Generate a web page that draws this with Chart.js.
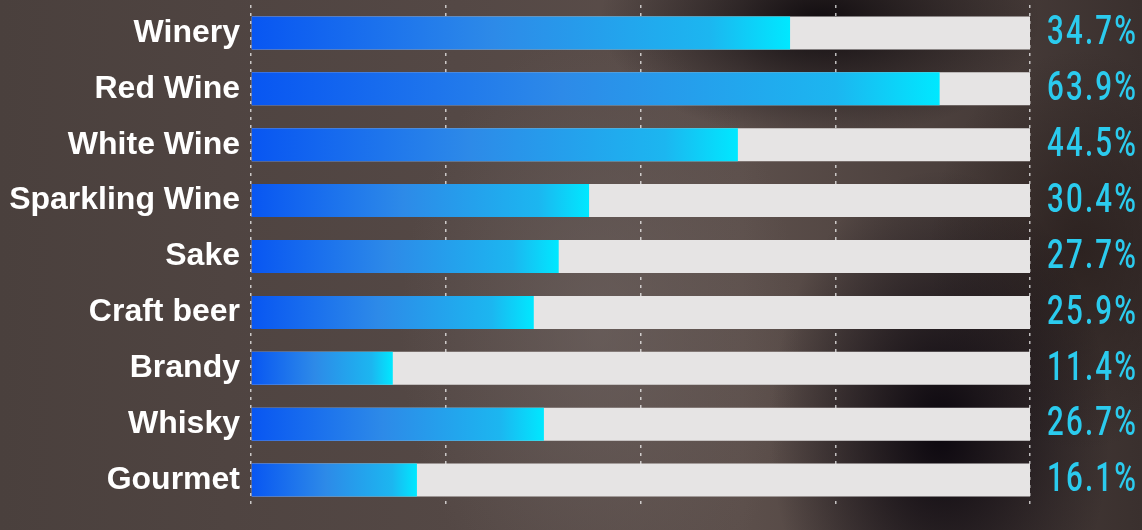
<!DOCTYPE html>
<html>
<head>
<meta charset="utf-8">
<script src="https://cdn.jsdelivr.net/npm/chart.js@4.4.1/dist/chart.umd.min.js"></script>
<style>
    html, body {
        margin: 0;
        padding: 0;
        width: 1142px;
        height: 530px;
        overflow: hidden;
    }
    #wrap {
        position: relative;
        width: 1142px;
        height: 530px;
        background:
            radial-gradient(ellipse 170px 260px at 940px 430px, rgba(8, 4, 12, 0.95), rgba(8, 4, 12, 0) 100%),
            radial-gradient(ellipse 220px 120px at 820px 20px, rgba(10, 6, 10, 0.9), rgba(10, 6, 10, 0) 100%),
            radial-gradient(ellipse 150px 200px at 1080px 250px, rgba(40, 30, 28, 0.8), rgba(40, 30, 28, 0) 100%),
            radial-gradient(ellipse 200px 300px at 600px 330px, rgba(120, 110, 108, 0.45), rgba(120, 110, 108, 0) 100%),
            linear-gradient(90deg, #4a403d 0%, #544845 40%, #5c4f4b 65%, #3a302e 100%);
    }
    canvas { position: absolute; left: 0; top: 0; }
</style>
</head>
<body>
<div id="wrap"><canvas id="chart" width="1142" height="530"></canvas></div>
<script>
// categories, bar lengths (share of axis) and printed labels
const categories = ['Winery', 'Red Wine', 'White Wine', 'Sparkling Wine', 'Sake', 'Craft beer', 'Brandy', 'Whisky', 'Gourmet'];
const barValues = [69.2, 88.4, 62.5, 43.4, 39.5, 36.3, 18.2, 37.6, 21.3];
const trackValues = [100, 100, 100, 100, 100, 100, 100, 100, 100];
const valueLabels = ['34.7%', '63.9%', '44.5%', '30.4%', '27.7%', '25.9%', '11.4%', '26.7%', '16.1%'];
const axisMax = 100;
const axisStep = 25;

function barGradient(context) {
    const chart = context.chart;
    if (!chart.chartArea) return '#1565f0';
    const xs = chart.scales.x;
    const x0 = xs.getPixelForValue(0);
    const x1 = xs.getPixelForValue(context.raw);
    const g = chart.ctx.createLinearGradient(x0, 0, x1, 0);
    g.addColorStop(0, '#0856f2');
    g.addColorStop(0.45, '#2d8ae8');
    g.addColorStop(0.85, '#1cb6f0');
    g.addColorStop(1, '#00e8ff');
    return g;
}

// value text on the right of each track (squeezed to look condensed)
const valueLabelPlugin = {
    id: 'valueLabels',
    afterDatasetsDraw(chart) {
        const ctx = chart.ctx;
        const meta = chart.getDatasetMeta(0);
        const squeeze = 0.72;
        ctx.save();
        ctx.fillStyle = '#2bcbee';
        ctx.font = '500 41px Roboto, "Liberation Sans", sans-serif';
        ctx.letterSpacing = '3px';
        ctx.textAlign = 'left';
        ctx.textBaseline = 'middle';
        ctx.scale(squeeze, 1);
        meta.data.forEach((bar, i) => {
            ctx.fillText(valueLabels[i], (chart.chartArea.right + 17) / squeeze, bar.y + 1);
        });
        ctx.restore();
    }
};

new Chart(document.getElementById('chart').getContext('2d'), {
    type: 'bar',
    data: {
        labels: categories,
        datasets: [
            {
                data: barValues,
                backgroundColor: barGradient,
                borderWidth: 0,
                barPercentage: 0.59,
                categoryPercentage: 1
            },
            {
                data: trackValues,
                backgroundColor: '#e6e4e4',
                borderWidth: 0,
                barPercentage: 0.59,
                categoryPercentage: 1
            }
        ]
    },
    options: {
        indexAxis: 'y',
        responsive: false,
        animation: false,
        layout: { padding: { top: 5, bottom: 22, right: 112, left: 0 } },
        datasets: { bar: { grouped: false } },
        plugins: {
            legend: { display: false },
            tooltip: { enabled: false }
        },
        scales: {
            x: {
                min: 0,
                max: axisMax,
                ticks: { display: false, stepSize: axisStep },
                grid: {
                    color: 'rgba(255, 255, 255, 0.7)',
                    lineWidth: 1.5,
                    drawTicks: false,
                    tickBorderDash: [3, 5]
                },
                border: { display: false, dash: [3, 5] }
            },
            y: {
                grid: { display: false },
                border: { display: false },
                afterFit(scale) {
                    scale.width = 251;
                    scale.paddingTop = 0;
                    scale.paddingBottom = 0;
                },
                ticks: {
                    color: '#ffffff',
                    padding: 3,
                    font: { family: '"Liberation Sans", Arial, sans-serif', size: 32, weight: 'bold' }
                }
            }
        }
    },
    plugins: [valueLabelPlugin]
});
</script>
</body>
</html>
